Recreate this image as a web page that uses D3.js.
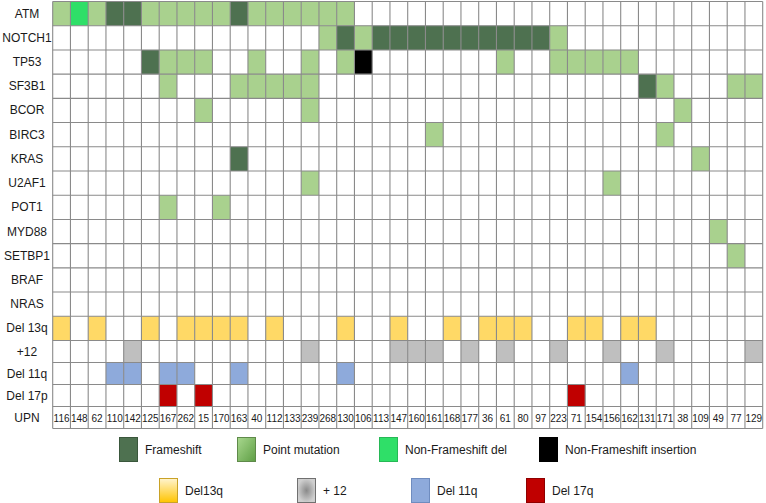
<!DOCTYPE html>
<html>
<head>
<meta charset="utf-8">
<script src="https://cdn.jsdelivr.net/npm/d3@7"></script>
<style>
  html, body { margin: 0; padding: 0; background: #fff; }
  svg { display: block; font-family: "Liberation Sans", Arial, sans-serif; }
</style>
</head>
<body>
<svg id="chart" width="766" height="503"></svg>
<script>
// ---------------- DATA ----------------
const upn = [116,148,62,110,142,125,167,262,15,170,163,40,112,133,239,268,130,106,113,147,
             160,161,168,177,36,61,80,97,223,71,154,156,162,131,171,38,109,49,77,129];

const genes = ["ATM","NOTCH1","TP53","SF3B1","BCOR","BIRC3","KRAS","U2AF1","POT1","MYD88","SETBP1","BRAF","NRAS"];
// one character per patient (same order as upn):
// P = point mutation, F = frameshift, D = non-frameshift del, I = non-frameshift insertion, . = none
const ATM    = "PDPFFPPPPPFPPPPPP.......................";
const NOTCH1 = "...............PFPFFFFFFFFFFP...........";
const TP53   = ".....FPPP..P..P.PI.......P..PPPPP.......";
const SF3B1  = "......P...PPPPP..................FP...PP";
const BCOR   = "........P.....P....................P....";
const BIRC3  = ".....................P............P.....";
const KRAS   = "..........F.........................P...";
const U2AF1  = "..............P................P........";
const POT1   = "......P..P..............................";
const MYD88  = ".....................................P..";
const SETBP1 = "......................................P.";
const BRAF   = "........................................";
const NRAS   = "........................................";
const geneCalls = [ATM, NOTCH1, TP53, SF3B1, BCOR, BIRC3, KRAS, U2AF1, POT1, MYD88, SETBP1, BRAF, NRAS];

const cnvRows = ["Del 13q","+12","Del 11q","Del 17p"];
const del13q = "Y.Y..Y.YYYY.Y...Y..Y..Y.YYY..YY.YY......";
const tri12  = "....Y.........Y....YYY.Y.Y..Y..Y..Y....Y";
const del11q = "...YY.YY..Y.....Y...............Y.......";
const del17p = "......Y.Y....................Y..........";
const cnvCalls = [del13q, tri12, del11q, del17p];

const mutationTypes = ["F","P","D","I"];
const mutationLabels = ["Frameshift","Point mutation","Non-Frameshift del","Non-Frameshift insertion"];
const cnvLabels = ["Del13q","+ 12","Del 11q","Del 17q"];

// ---------------- STYLE ----------------
const mutColor = d3.scaleOrdinal().domain(mutationTypes).range(["#4e7150","#a9d18e","#2fdf68","#000000"]);
const cnvColor = d3.scaleOrdinal().domain(cnvRows).range(["#ffd966","#bfbfbf","#8eaadb","#c00000"]);

const svg = d3.select("#chart");
const gridLeft = 52.7, gridRight = 762.7;

const x = d3.scaleBand().domain(upn.map(String)).range([gridLeft, gridRight]).padding(0);
const upperRows = genes.concat(["Del 13q"]);
const lowerRows = ["+12","Del 11q","Del 17p","UPN"];
const yUpper = d3.scaleBand().domain(upperRows).range([1.5, 340.5]);
const yLower = d3.scaleBand().domain(lowerRows).range([340.5, 428.5]);
const yPos = r => upperRows.includes(r) ? yUpper(r) : yLower(r);
const yH = r => upperRows.includes(r) ? yUpper.bandwidth() : yLower.bandwidth();
const allRows = upperRows.concat(lowerRows);

// ---------------- CELLS ----------------
const cells = [];
genes.forEach((g, gi) => {
  upn.forEach((u, ui) => {
    const c = geneCalls[gi][ui];
    if (c && c !== ".") cells.push({row: g, upn: u, fill: mutColor(c)});
  });
});
cnvRows.forEach((r, ri) => {
  upn.forEach((u, ui) => {
    if (cnvCalls[ri][ui] === "Y") cells.push({row: r, upn: u, fill: cnvColor(r)});
  });
});

svg.append("g").selectAll("rect").data(cells).join("rect")
  .attr("x", d => x(String(d.upn)))
  .attr("y", d => yPos(d.row))
  .attr("width", x.bandwidth())
  .attr("height", d => yH(d.row))
  .attr("fill", d => d.fill);

// ---------------- GRID ----------------
const grid = svg.append("g").attr("stroke", "#8a8a8a").attr("stroke-width", 1.1);
const colEdges = upn.map(u => x(String(u))).concat([gridRight]);
grid.selectAll("line.v").data(colEdges).join("line").attr("class","v")
  .attr("x1", d => d).attr("x2", d => d).attr("y1", 1.5).attr("y2", 428.5);
const rowEdges = allRows.map(r => yPos(r)).concat([428.5]);
grid.selectAll("line.h").data(rowEdges).join("line").attr("class","h")
  .attr("x1", gridLeft).attr("x2", gridRight).attr("y1", d => d).attr("y2", d => d);

// ---------------- ROW LABELS ----------------
svg.append("g").selectAll("text").data(allRows).join("text")
  .attr("x", 27)
  .attr("y", r => yPos(r) + yH(r) / 2)
  .attr("text-anchor", "middle")
  .attr("dominant-baseline", "central")
  .attr("font-size", 12)
  .attr("fill", "#1a1a1a")
  .text(d => d);

// ---------------- UPN LABELS ----------------
svg.append("g").selectAll("text").data(upn).join("text")
  .attr("x", d => x(String(d)) + x.bandwidth() / 2)
  .attr("y", yPos("UPN") + yH("UPN") / 2 + 1)
  .attr("text-anchor", "middle")
  .attr("dominant-baseline", "central")
  .attr("font-size", 10)
  .attr("fill", "#1a1a1a")
  .text(d => d);

// ---------------- LEGEND ----------------
const defs = svg.append("defs");
const gPoint = defs.append("linearGradient").attr("id","gPoint").attr("x1","0").attr("y1","0").attr("x2","1").attr("y2","1");
gPoint.append("stop").attr("offset","0%").attr("stop-color","#a9d88e");
gPoint.append("stop").attr("offset","100%").attr("stop-color","#5e9e45");
const gYellow = defs.append("linearGradient").attr("id","gYellow").attr("x1","0").attr("y1","0").attr("x2","0").attr("y2","1");
gYellow.append("stop").attr("offset","0%").attr("stop-color","#fff4cf");
gYellow.append("stop").attr("offset","100%").attr("stop-color","#ffc400");
const gGray = defs.append("radialGradient").attr("id","gGray");
gGray.append("stop").attr("offset","0%").attr("stop-color","#8a8a8a");
gGray.append("stop").attr("offset","100%").attr("stop-color","#cfcfcf");

const mutLegendX = [119, 237, 379, 539];
const mutFills = ["#4e7150", "url(#gPoint)", "#2fdf68", "#000000"];
const mutStrokes = ["#3a573c", "#5f8a4a", "#27b856", "#000000"];
const cnvLegendX = [159, 297, 411, 526];
const cnvFills = ["url(#gYellow)", "url(#gGray)", "#8eaadb", "#c00000"];
const cnvStrokes = ["#c9a227", "#707070", "#6f8cbf", "#8f0000"];

function legendRow(labels, xs, fills, strokes, top) {
  const g = svg.append("g");
  const items = g.selectAll("g").data(labels).join("g")
    .attr("transform", (d, i) => `translate(${xs[i]},${top})`);
  items.append("rect")
    .attr("x", 0.5).attr("y", 0.5).attr("width", 18).attr("height", 24)
    .attr("fill", (d, i) => fills[i])
    .attr("stroke", (d, i) => strokes[i]).attr("stroke-width", 1);
  items.append("text")
    .attr("x", 26).attr("y", 12.5)
    .attr("dominant-baseline", "central")
    .attr("font-size", 12)
    .attr("fill", "#1a1a1a")
    .text(d => d);
}
legendRow(mutationLabels, mutLegendX, mutFills, mutStrokes, 437);
legendRow(cnvLabels, cnvLegendX, cnvFills, cnvStrokes, 478);
</script>
</body>
</html>
